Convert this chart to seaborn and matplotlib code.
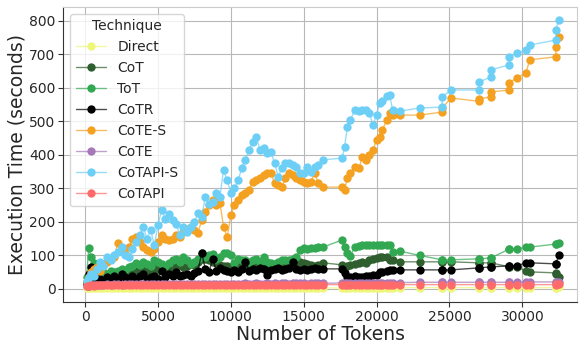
import pandas as pd
import matplotlib
matplotlib.use('Agg')
import matplotlib.pyplot as plt
import seaborn as sns
from matplotlib.colors import to_rgba

# ============================================================================
# DATA
# ============================================================================
tokens = [
    100, 250, 400, 600, 800, 1000, 1250, 1500, 1750, 2000,
    2250, 2500, 2750, 3000, 3250, 3500, 3750, 4000, 4250, 4500,
    4750, 5000, 5250, 5500, 5750, 6000, 6250, 6500, 6750, 7000,
    7250, 7500, 7750, 8000, 8250, 8500, 8750, 9000, 9250, 9500,
    9750, 10000, 10250, 10500, 10750, 11000, 11250, 11500, 11750, 12000,
    12250, 12500, 12750, 13000, 13250, 13500, 13750, 14000, 14250, 14500,
    14750, 15000, 15250, 15500, 15750, 16000, 16300, 17650, 17800, 18000,
    18200, 18500, 18800, 19000, 19300, 19500, 19750, 20000, 20200, 20400,
    20700, 20900, 21100, 21600, 22950, 24500, 24500, 25100, 27050, 27050,
    27850, 27850, 29100, 29100, 29600, 30250, 30500, 32300, 32300, 32500,
]

direct = [
    2, 3, 2, 3, 2, 3, 3, 2, 3, 2,
    3, 3, 2, 3, 3, 2, 3, 3, 2, 3,
    3, 2, 3, 3, 2, 3, 3, 2, 3, 3,
    2, 3, 3, 2, 3, 3, 2, 3, 3, 2,
    3, 3, 2, 3, 3, 2, 3, 3, 2, 3,
    3, 2, 3, 3, 2, 3, 3, 2, 3, 3,
    2, 3, 3, 2, 3, 3, 3, 3, 4, 3,
    3, 4, 3, 3, 4, 3, 3, 4, 3, 4,
    4, 4, 4, 4, 4, 4, 4, 4, 4, 4,
    4, 4, 4, 4, 4, 4, 4, 4, 4, 5,
]

cot = [
    20, 30, 35, 30, 38, 35, 32, 40, 36, 40,
    42, 45, 40, 48, 50, 55, 52, 58, 55, 60,
    62, 58, 65, 68, 60, 55, 70, 72, 66, 70,
    75, 72, 80, 88, 90, 85, 80, 78, 72, 70,
    68, 65, 72, 70, 68, 66, 70, 72, 65, 70,
    65, 68, 70, 72, 75, 72, 78, 81, 78, 80,
    81, 78, 75, 72, 70, 72, 78, 72, 66, 70,
    72, 75, 78, 80, 78, 87, 90, 93, 96, 94,
    96, 87, 87, 81, 81, 81, 81, 81, 78, 78,
    78, 78, 66, 66, 66, 54, 51, 48, 45, 36,
]

tot = [
    35, 122, 96, 78, 55, 45, 50, 45, 55, 50,
    55, 60, 58, 65, 70, 78, 72, 80, 75, 70,
    87, 80, 75, 70, 78, 85, 90, 80, 96, 85,
    75, 80, 90, 107, 95, 100, 105, 90, 96, 107,
    107, 100, 78, 90, 85, 87, 80, 85, 90, 81,
    96, 80, 78, 75, 80, 85, 87, 87, 90, 96,
    116, 122, 120, 122, 122, 125, 125, 146, 125, 107,
    98, 125, 128, 131, 131, 131, 131, 131, 131, 131,
    131, 131, 110, 113, 100, 87, 87, 87, 90, 90,
    93, 93, 119, 119, 119, 125, 125, 134, 134, 137,
]

cotr = [
    15, 45, 66, 40, 35, 30, 25, 35, 30, 40,
    30, 45, 35, 28, 40, 30, 38, 45, 30, 35,
    40, 30, 55, 35, 45, 40, 50, 38, 42, 45,
    38, 48, 55, 107, 60, 50, 90, 55, 62, 58,
    55, 50, 58, 52, 60, 81, 55, 60, 58, 62,
    60, 42, 58, 60, 62, 58, 60, 62, 81, 60,
    57, 60, 58, 60, 62, 60, 60, 60, 48, 36,
    36, 38, 36, 36, 38, 40, 42, 42, 51, 52,
    55, 57, 57, 57, 57, 57, 57, 57, 63, 63,
    66, 66, 69, 69, 69, 78, 78, 75, 75, 101,
]

cote_s = [
    20, 35, 50, 60, 66, 55, 70, 80, 90, 96,
    137, 115, 105, 125, 150, 155, 140, 125, 115, 110,
    120, 140, 160, 150, 145, 150, 160, 155, 170, 180,
    185, 175, 167, 206, 230, 250, 266, 250, 257, 185,
    155, 220, 250, 266, 280, 286, 296, 320, 325, 330,
    340, 346, 346, 316, 310, 304, 330, 346, 340, 330,
    325, 320, 316, 320, 346, 316, 304, 304, 296, 330,
    346, 364, 360, 394, 385, 400, 415, 445, 455, 475,
    504, 525, 519, 519, 519, 528, 540, 570, 560, 568,
    573, 588, 594, 615, 630, 645, 684, 693, 722, 752,
]

cote = [
    8, 10, 12, 12, 13, 12, 13, 14, 13, 14,
    14, 13, 15, 14, 15, 14, 16, 15, 14, 15,
    15, 16, 15, 16, 15, 16, 15, 16, 16, 15,
    16, 15, 16, 16, 15, 16, 16, 15, 16, 16,
    16, 16, 15, 16, 16, 17, 16, 16, 17, 16,
    16, 17, 16, 17, 16, 17, 17, 16, 17, 17,
    17, 17, 16, 17, 17, 17, 17, 18, 18, 18,
    18, 18, 18, 18, 18, 18, 19, 19, 19, 19,
    19, 19, 19, 19, 20, 20, 20, 20, 20, 20,
    20, 20, 20, 20, 20, 21, 21, 21, 21, 21,
]

cotapi_s = [
    25, 35, 45, 40, 60, 80, 70, 95, 85, 100,
    110, 125, 100, 96, 120, 140, 160, 185, 150, 176,
    130, 190, 236, 210, 225, 205, 195, 160, 185, 170,
    185, 200, 227, 215, 275, 255, 260, 286, 275, 355,
    325, 286, 300, 325, 360, 385, 415, 440, 454, 415,
    420, 406, 409, 376, 335, 360, 376, 376, 370, 364,
    346, 346, 364, 350, 364, 370, 385, 391, 424, 484,
    504, 534, 530, 534, 534, 525, 490, 520, 555, 560,
    575, 579, 534, 531, 540, 543, 573, 594, 594, 618,
    633, 654, 669, 693, 704, 713, 728, 743, 773, 803,
]

cotapi = [
    8, 10, 11, 10, 11, 12, 11, 12, 11, 12,
    12, 11, 12, 12, 11, 12, 12, 11, 12, 12,
    12, 12, 11, 12, 12, 12, 11, 12, 12, 12,
    12, 12, 12, 11, 12, 12, 12, 12, 11, 12,
    12, 12, 12, 12, 12, 12, 12, 12, 12, 12,
    12, 12, 12, 12, 12, 12, 12, 12, 12, 12,
    12, 12, 12, 13, 13, 13, 13, 13, 13, 13,
    13, 13, 13, 13, 13, 13, 13, 13, 13, 13,
    13, 13, 13, 13, 13, 13, 13, 13, 13, 13,
    13, 13, 13, 13, 13, 13, 13, 13, 14, 14,
]

techniques = ['Direct', 'CoT', 'ToT', 'CoTR', 'CoTE-S', 'CoTE', 'CoTAPI-S', 'CoTAPI']
colors = ['#eef77a', '#2f5f2f', '#33a852', '#000000', '#f4a020', '#a678b8', '#6dcff6', '#ff6b6b']
series = [direct, cot, tot, cotr, cote_s, cote, cotapi_s, cotapi]

df = pd.concat(
    [pd.DataFrame({'Tokens': tokens, 'Time': s, 'Technique': t}) for t, s in zip(techniques, series)],
    ignore_index=True,
)


def soften(line, alpha=0.7):
    # translucent line, solid marker
    rgb = to_rgba(line.get_color())[:3]
    line.set_color((*rgb, alpha))
    line.set_markerfacecolor((*rgb, 1.0))
    line.set_markeredgecolor((*rgb, 1.0))


sns.set_style('whitegrid', {'grid.color': '.72', 'axes.edgecolor': '.2'})
fig, ax = plt.subplots(figsize=(5.79, 3.44), dpi=100)
fig.subplots_adjust(left=0.109, right=0.997, bottom=0.122, top=0.98)

sns.lineplot(data=df, x='Tokens', y='Time', hue='Technique', hue_order=techniques,
             palette=dict(zip(techniques, colors)), marker='o', markersize=6,
             markeredgewidth=0, linewidth=1, estimator=None, sort=False, ax=ax)

for line in ax.lines:
    soften(line)

ax.set_xlim(-1507, 33767)
ax.set_ylim(-39, 842)
ax.set_xticks(range(0, 30001, 5000))
ax.set_yticks(range(0, 801, 100))
ax.tick_params(axis='both', labelsize=10, length=3.5, pad=2, color='.2', left=True, bottom=True)
ax.set_xlabel('Number of Tokens', fontsize=13.5, labelpad=1)
ax.set_ylabel('Execution Time (seconds)', fontsize=13.5, labelpad=2)
for side in ['top', 'right']:
    ax.spines[side].set_color('.8')

sns.move_legend(ax, 'upper left', title='Technique', frameon=True, fontsize=10,
                title_fontsize=10, borderaxespad=0.5, handlelength=2.2)
for h in ax.get_legend().legend_handles:
    soften(h)

plt.savefig('out.png', dpi=100)
